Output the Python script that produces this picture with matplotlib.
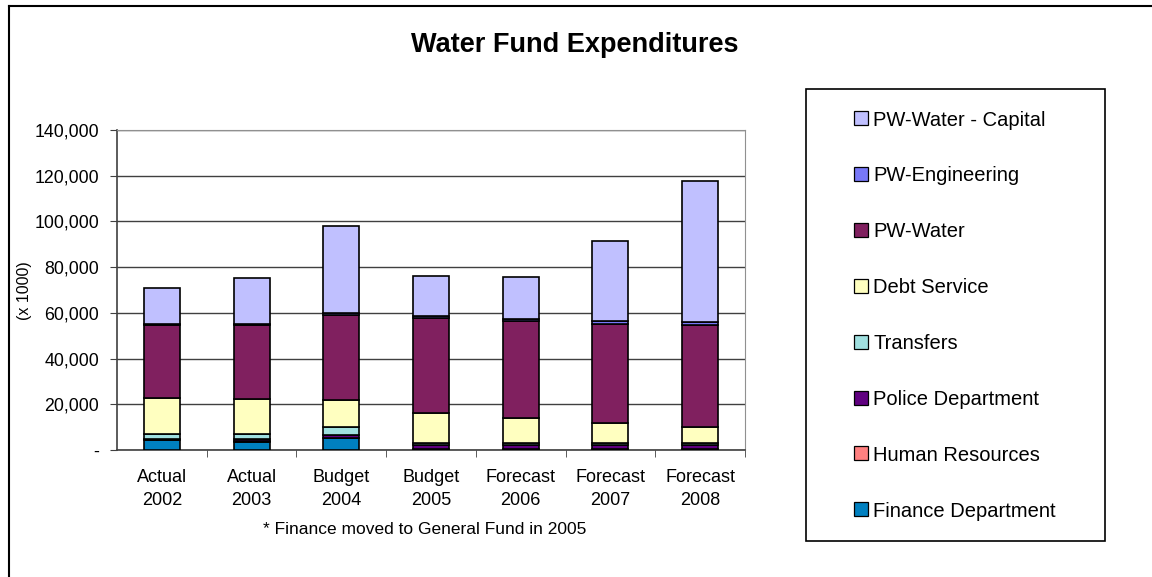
import matplotlib.pyplot as plt
from matplotlib.lines import Line2D
from matplotlib.patches import Rectangle
from matplotlib.ticker import FuncFormatter

plt.rcParams["font.family"] = ["Liberation Sans", "DejaVu Sans"]

categories = ["Actual\n2002", "Actual\n2003", "Budget\n2004", "Budget\n2005",
              "Forecast\n2006", "Forecast\n2007", "Forecast\n2008"]

# values in thousands, bottom to top of each stack
finance = [4200, 3700, 5100, 0, 0, 0, 0]
human_resources = [300, 400, 300, 500, 500, 500, 500]
police = [300, 900, 1200, 1800, 1800, 1800, 1800]
transfers = [2000, 1900, 3600, 600, 600, 600, 600]
debt_service = [15900, 15200, 11700, 13200, 11000, 9100, 7000]
pw_water = [32000, 32500, 37100, 41500, 42400, 43200, 44700]
pw_engineering = [600, 600, 900, 1000, 1000, 1400, 1400]
pw_capital = [15700, 20000, 38100, 17700, 18400, 34800, 61700]

series = [
    ("Finance Department", finance, "#0080C0"),
    ("Human Resources", human_resources, "#FF8080"),
    ("Police Department", police, "#600080"),
    ("Transfers", transfers, "#A0E0E0"),
    ("Debt Service", debt_service, "#FFFFC0"),
    ("PW-Water", pw_water, "#80205F"),
    ("PW-Engineering", pw_engineering, "#7878F8"),
    ("PW-Water - Capital", pw_capital, "#C0C0FF"),
]

W, H = 1152, 577
fig = plt.figure(figsize=(W / 100, H / 100), dpi=100)
ax = fig.add_axes([117 / W, 1 - 450 / H, 628 / W, 320 / H])

x = list(range(len(categories)))
bottom = [0] * len(categories)
for name, vals, color in series:
    ax.bar(x, vals, width=0.4, bottom=bottom, color=color,
           edgecolor="black", linewidth=1.2, zorder=3)
    bottom = [b + v for b, v in zip(bottom, vals)]

ax.set_xlim(-0.5, len(categories) - 0.5)
ax.set_ylim(0, 140000)
ax.set_yticks(range(0, 140001, 20000))
ax.yaxis.set_major_formatter(FuncFormatter(lambda v, p: "-" if v == 0 else f"{int(v):,}"))
ax.set_xticks(x)
ax.set_xticklabels(categories, fontsize=13, linespacing=1.45)
ax.set_xticks([i + 0.5 for i in x], minor=True)
ax.tick_params(axis="x", which="major", length=0, pad=14)
ax.tick_params(axis="x", which="minor", length=5, color="#404040")
ax.tick_params(axis="y", length=5, labelsize=12.8, color="#404040", pad=8)
ax.grid(axis="y", color="#404040", linewidth=1, zorder=0)
for s in ["top", "right"]:
    ax.spines[s].set_color("#909090")
for s in ["left", "bottom"]:
    ax.spines[s].set_color("#404040")
    ax.spines[s].set_linewidth(1.2)

fig.text(25 / W, 1 - 291 / H, "(x 1000)", rotation=90, fontsize=11.5,
         ha="center", va="center")
fig.text(425 / W, 1 - 530 / H, "* Finance moved to General Fund in 2005",
         fontsize=12.5, ha="center", va="center")
fig.text(575 / W, 1 - 45 / H, "Water Fund Expenditures", fontsize=19.5,
         fontweight="bold", ha="center", va="center")

# legend box, drawn by hand so entries sit where the reference puts them
fig.add_artist(Rectangle((806 / W, 1 - 541 / H), 299 / W, 452 / H,
                         transform=fig.transFigure, facecolor="white",
                         edgecolor="black", linewidth=1.2))
for i, (name, vals, color) in enumerate(series[::-1]):
    yc = 118 + i * 55.9
    fig.add_artist(Rectangle((854 / W, 1 - (yc + 7) / H), 14 / W, 14 / H,
                             transform=fig.transFigure, facecolor=color,
                             edgecolor="black", linewidth=0.9))
    fig.text(873 / W, 1 - yc / H, name, fontsize=14.5, ha="left", va="center_baseline")

# outer chart frame
fig.add_artist(Line2D([9 / W, 1], [1 - 6 / H, 1 - 6 / H], color="black", lw=1.5))
fig.add_artist(Line2D([9 / W, 9 / W], [0, 1 - 6 / H], color="black", lw=1.5))

fig.savefig("out.png", dpi=100)
